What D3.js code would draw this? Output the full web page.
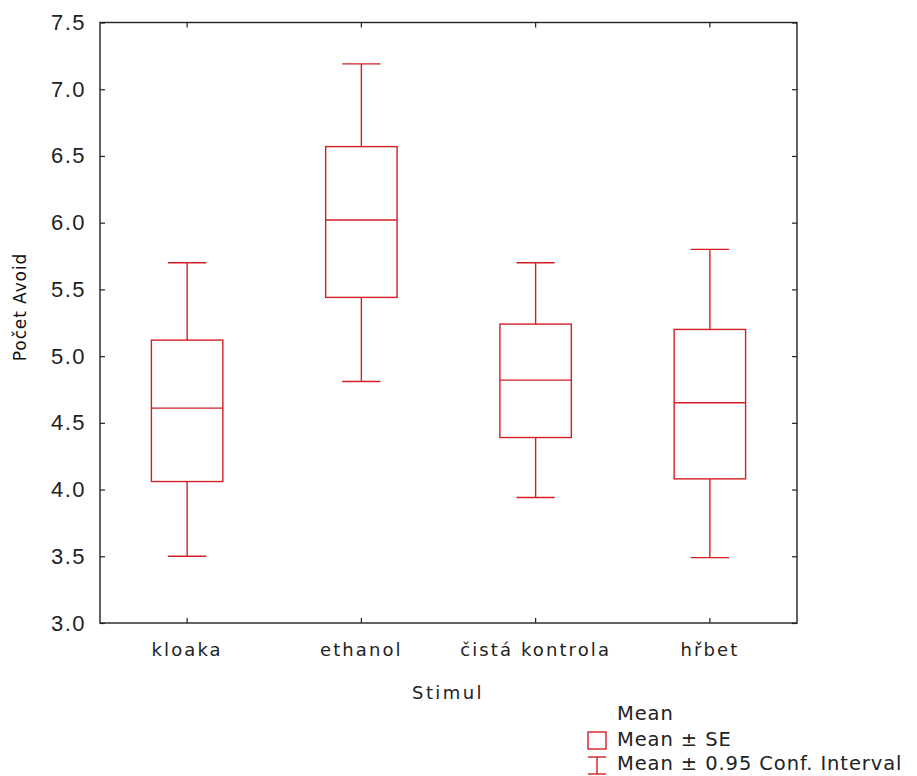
<!DOCTYPE html>
<html><head><meta charset="utf-8">
<script src="https://cdn.jsdelivr.net/npm/d3@7"></script>
<style>body{margin:0;background:#fff}svg{display:block}</style>
</head><body>
<script>
const categories = ["kloaka", "ethanol", "čistá kontrola", "hřbet"];
const means   = [4.61, 6.02, 4.82, 4.65];
const seLow   = [4.06, 5.44, 4.39, 4.08];
const seHigh  = [5.12, 6.57, 5.24, 5.20];
const ciLow   = [3.50, 4.81, 3.94, 3.49];
const ciHigh  = [5.70, 7.19, 5.70, 5.80];
const yTicks  = [3.0, 3.5, 4.0, 4.5, 5.0, 5.5, 6.0, 6.5, 7.0, 7.5];
const legendLabels = ["Mean", "Mean ± SE", "Mean ± 0.95 Conf. Interval"];

const W = 917, H = 776;
const L = 100, R = 797, T = 22.5, B = 623;
const red = "#d21f26";
const font = "'DejaVu Sans', sans-serif";

const svg = d3.select("body").append("svg").attr("width", W).attr("height", H);

const x = d3.scaleBand().domain(categories).range([L, R]);
const y = d3.scaleLinear().domain([3, 7.5]).range([B, T]);

// frame
svg.append("rect").attr("x", L).attr("y", T).attr("width", R - L).attr("height", B - T)
  .attr("fill", "none").attr("stroke", "#222").attr("stroke-width", 1.4);

// axes (inward ticks)
const yAxis = d3.axisLeft(y).tickValues(yTicks).tickFormat(d3.format(".1f")).tickSizeInner(-5).tickSizeOuter(0).tickPadding(14);
const gy = svg.append("g").attr("transform", `translate(${L},0)`).call(yAxis);
gy.select(".domain").remove();
gy.selectAll("line").attr("stroke", "#222").attr("stroke-width", 1.2);
gy.selectAll("text").attr("font-family", "'Liberation Sans Narrow', 'Arial Narrow', 'Liberation Sans', sans-serif")
  .attr("font-size", 22).attr("fill", "#222").style("letter-spacing", "1.5px");

const yAxisR = d3.axisRight(y).tickValues(yTicks).tickFormat("").tickSizeInner(-5).tickSizeOuter(0);
const gyr = svg.append("g").attr("transform", `translate(${R},0)`).call(yAxisR);
gyr.select(".domain").remove();
gyr.selectAll("line").attr("stroke", "#222").attr("stroke-width", 1.2);

const xAxis = d3.axisBottom(x).tickSizeInner(-5).tickSizeOuter(0).tickPadding(20);
const gx = svg.append("g").attr("transform", `translate(0,${B})`).call(xAxis);
gx.select(".domain").remove();
gx.selectAll("line").attr("stroke", "#222").attr("stroke-width", 1.2);
gx.selectAll("text").attr("font-family", font).attr("font-size", 18).attr("fill", "#222")
  .style("letter-spacing", "2.1px");

const xAxisT = d3.axisTop(x).tickSizeInner(-5).tickSizeOuter(0).tickFormat("");
const gxt = svg.append("g").attr("transform", `translate(0,${T})`).call(xAxisT);
gxt.select(".domain").remove();
gxt.selectAll("line").attr("stroke", "#222").attr("stroke-width", 1.2);

// boxes
const bw = x.bandwidth() * 0.41;
const cw = x.bandwidth() * 0.22;
const g = svg.append("g").attr("stroke", red).attr("stroke-width", 1.4).attr("fill", "none");
categories.forEach((c, i) => {
  const cx = x(c) + x.bandwidth() / 2;
  g.append("line").attr("x1", cx).attr("x2", cx).attr("y1", y(ciHigh[i])).attr("y2", y(seHigh[i]));
  g.append("line").attr("x1", cx).attr("x2", cx).attr("y1", y(seLow[i])).attr("y2", y(ciLow[i]));
  g.append("line").attr("x1", cx - cw / 2).attr("x2", cx + cw / 2).attr("y1", y(ciHigh[i])).attr("y2", y(ciHigh[i]));
  g.append("line").attr("x1", cx - cw / 2).attr("x2", cx + cw / 2).attr("y1", y(ciLow[i])).attr("y2", y(ciLow[i]));
  g.append("rect").attr("x", cx - bw / 2).attr("width", bw).attr("y", y(seHigh[i])).attr("height", y(seLow[i]) - y(seHigh[i]));
  g.append("line").attr("x1", cx - bw / 2).attr("x2", cx + bw / 2).attr("y1", y(means[i])).attr("y2", y(means[i]));
});

// axis titles
svg.append("text").attr("x", 448).attr("y", 699).attr("text-anchor", "middle")
  .attr("font-family", font).attr("font-size", 18).attr("fill", "#222").style("letter-spacing", "2.4px").text("Stimul");
svg.append("text").attr("transform", "translate(26,307) rotate(-90)").attr("text-anchor", "middle")
  .attr("font-family", font).attr("font-size", 17).attr("fill", "#111").style("letter-spacing", "0.9px").text("Počet Avoid");

// legend
const lg = svg.append("g");
const lgy = [720, 746, 770];
legendLabels.forEach((t, i) => {
  lg.append("text").attr("x", 617).attr("y", lgy[i]).attr("font-family", font).attr("font-size", 19.5)
    .attr("fill", "#222").style("letter-spacing", "0.9px").text(t);
});
lg.append("rect").attr("x", 588).attr("y", 732).attr("width", 18).attr("height", 17)
  .attr("fill", "none").attr("stroke", red).attr("stroke-width", 1.4);
lg.append("line").attr("x1", 588).attr("x2", 606).attr("y1", 757).attr("y2", 757).attr("stroke", red).attr("stroke-width", 1.4);
lg.append("line").attr("x1", 588).attr("x2", 606).attr("y1", 774).attr("y2", 774).attr("stroke", red).attr("stroke-width", 1.4);
lg.append("line").attr("x1", 597).attr("x2", 597).attr("y1", 757).attr("y2", 774).attr("stroke", red).attr("stroke-width", 1.4);
</script>
</body></html>
